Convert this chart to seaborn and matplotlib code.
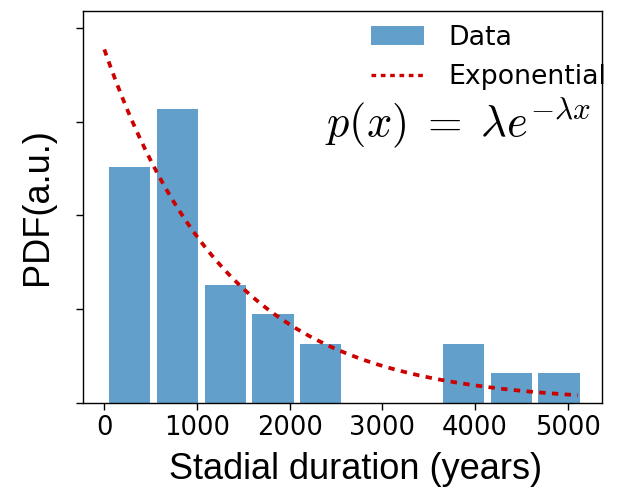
import numpy as np
import pandas as pd
import matplotlib
matplotlib.use("Agg")
import matplotlib.pyplot as plt
from matplotlib.lines import Line2D
from matplotlib.patches import Patch
import seaborn as sns

# ---- data ----
bin_edges = [18, 532, 1047, 1562, 2076, 2591, 3105, 3620, 4135, 4649, 5164]
counts = [8, 10, 4, 3, 2, 0, 0, 2, 1, 1]
rate = 7.54e-4            # lambda of the exponential fit (1/years)
curve_end = 5110
x_ticks = [0, 1000, 2000, 3000, 4000, 5000]
y_ticks = [0, 2e-4, 4e-4, 6e-4, 8e-4]

sns.set_style("ticks", rc={"axes.edgecolor": "black", "text.color": "black",
                           "xtick.color": "black", "ytick.color": "black",
                           "axes.labelcolor": "black"})
plt.rcParams["mathtext.fontset"] = "cm"

centers = [(a + b) / 2 for a, b in zip(bin_edges[:-1], bin_edges[1:])]
df = pd.DataFrame({"duration": centers, "n": counts})

W, H = 627, 496
fig = plt.figure(figsize=(W / 100, H / 100), dpi=100)
ax = fig.add_axes([83 / W, 1 - 402.7 / H, (602 - 83) / W, (402.7 - 10.7) / H])

bar_color = "#1f77b4"
line_color = "#cc0000"
sns.histplot(data=df, x="duration", weights="n", bins=bin_edges, stat="density",
             shrink=0.865, color=bar_color, alpha=0.7, linewidth=0, ax=ax)

xs = np.linspace(0, curve_end, 400)
sns.lineplot(x=xs, y=rate * np.exp(-rate * xs), color=line_color, lw=2.7,
             linestyle=(0, (1.7, 1.7)), ax=ax)

ax.set_xlim(-230, 5369)
ax.set_ylim(0, 8.367e-4)
ax.set_xticks(x_ticks)
ax.set_xticklabels([str(t) for t in x_ticks], fontsize=18.5)
ax.set_yticks(y_ticks)
ax.set_yticklabels([])
ax.tick_params(axis="both", length=5, width=1.0, color="black")

for s in ax.spines.values():
    s.set_visible(True)
    s.set_linewidth(1.0)
    s.set_color("black")

ax.set_xlabel("Stadial duration (years)", fontsize=26, family="Liberation Sans")
ax.xaxis.set_label_coords((356 - 83) / 519, -0.127)
ax.set_ylabel("PDF(a.u.)", fontsize=26, family="Liberation Sans", labelpad=12)

handles = [Patch(facecolor=bar_color, alpha=0.7, linewidth=0),
           Line2D([], [], color=line_color, lw=2.4, linestyle=(0, (1.4, 1.4)))]
fig.legend(handles, ["Data", "Exponential"], loc="upper left",
           bbox_to_anchor=(370.7 / W, 1 - 25 / H), bbox_transform=fig.transFigure,
           frameon=False, fontsize=19.3, borderpad=0, borderaxespad=0,
           handlelength=2.0, handletextpad=0.9, labelspacing=0.5)

fig.text(325 / W, 1 - 137 / H, r"$p(x)\;=\;\lambda e^{-\lambda x}$",
         fontsize=32, va="baseline", ha="left")

fig.savefig("out.png", dpi=100)
